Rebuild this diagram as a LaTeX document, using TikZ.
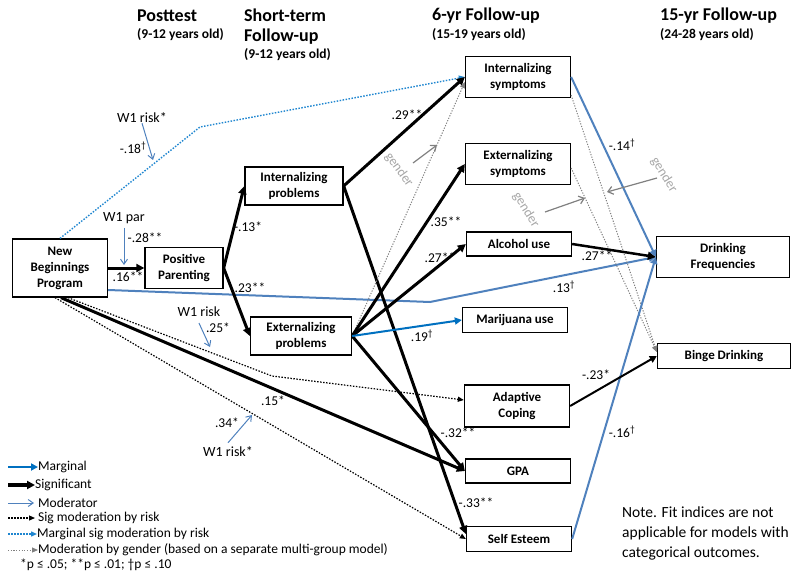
\documentclass[tikz,border=0pt]{standalone}
\usepackage{fontspec}
\setmainfont{Carlito}
\usetikzlibrary{arrows.meta,calc}
\definecolor{steel}{HTML}{4F81BD}
\definecolor{brightblue}{HTML}{0070C0}
\definecolor{dotblue}{HTML}{1F86D0}
\definecolor{gmod}{HTML}{808080}
\definecolor{gtext}{HTML}{A6A6A6}
\newcommand{\dg}{\textsuperscript{†}}
\begin{document}
\begin{tikzpicture}[x=1pt,y=-1pt,
  box/.style={draw=black, line width=1.3pt, fill=white, align=center, inner sep=0pt,
    font=\fontsize{13}{16}\selectfont\bfseries},
  hdr/.style={anchor=west, inner sep=0pt, font=\fontsize{18}{22}\selectfont\bfseries},
  sub/.style={anchor=west, inner sep=0pt, font=\fontsize{13.5}{15}\selectfont\bfseries},
  lbl/.style={inner sep=0pt, font=\fontsize{13.5}{14}\selectfont},
  modlbl/.style={inner sep=0pt, font=\fontsize{14}{15}\selectfont},
  glbl/.style={inner sep=0pt, text=gtext, font=\fontsize{13.5}{15}\selectfont},
  leg/.style={anchor=west, inner sep=0pt, font=\fontsize{13.5}{15}\selectfont},
  sig/.style={line width=3pt, -{Triangle[length=8pt,width=8pt]}},
  sigm/.style={line width=2.5pt, -{Triangle[length=8pt,width=8pt]}},
  sigs/.style={line width=2pt, -{Triangle[length=7pt,width=7pt]}},
  bluepath/.style={steel, line width=2pt, -{Triangle[length=7pt,width=7pt]}},
  marg/.style={brightblue, line width=2pt, -{Triangle[length=7pt,width=7pt]}},
  sigmod/.style={black, line width=1.2pt, dash pattern=on 1.5pt off 1.5pt, -{Triangle[length=6pt,width=5pt]}},
  margmod/.style={dotblue, line width=1.4pt, dash pattern=on 1.5pt off 1.5pt, -{Triangle[length=6pt,width=5pt]}},
  gendmod/.style={gmod, line width=1pt, dash pattern=on 1.2pt off 1.5pt, -{Triangle[length=6pt,width=5pt]}},
  modarr/.style={steel, line width=1pt, -{Straight Barb[length=5pt,width=7pt]}},
  garr/.style={gmod, line width=1.2pt, -{Straight Barb[length=5pt,width=8pt]}}
]
\useasboundingbox (0,0) rectangle (800,580);

% headers
\node[hdr] (h1) at (137,16) {Posttest};
\node[sub] (h1s) at (137,35) {(9-12 years old)};
\node[hdr] (h2) at (244,15) {Short-term};
\node[hdr] (h2b) at (244,37) {Follow-up};
\node[sub] (h2s) at (244,55) {(9-12 years old)};
\node[hdr] (h3) at (432,16) {6-yr Follow-up};
\node[sub] (h3s) at (432,35) {(15-19 years old)};
\node[hdr] (h4) at (660,16) {15-yr Follow-up};
\node[sub] (h4s) at (660,35) {(24-28 years old)};

% boxes
\node[box, minimum width=95pt, minimum height=58pt] (nbp) at (60,268) {New\\Beginnings\\Program};
\node[box, minimum width=78pt, minimum height=41pt] (pp) at (184,268) {Positive\\Parenting};
\node[box, minimum width=98pt, minimum height=38pt] (ip) at (294,186) {Internalizing\\problems};
\node[box, minimum width=101pt, minimum height=38pt] (ep) at (301,336) {Externalizing\\problems};
\node[box, minimum width=105pt, minimum height=41pt] (is) at (518,77) {Internalizing\\symptoms};
\node[box, minimum width=105pt, minimum height=41pt] (es) at (518,164) {Externalizing\\symptoms};
\node[box, minimum width=105pt, minimum height=24pt] (al) at (519,244) {Alcohol use};
\node[box, minimum width=105pt, minimum height=25pt] (mj) at (515,320) {Marijuana use};
\node[box, minimum width=105pt, minimum height=42pt] (ac) at (517,406) {Adaptive\\Coping};
\node[box, minimum width=105pt, minimum height=24pt] (gpa) at (518,471) {GPA};
\node[box, minimum width=105pt, minimum height=25pt] (se) at (519,539) {Self Esteem};
\node[box, minimum width=133pt, minimum height=41pt] (df) at (723,257) {Drinking\\Frequencies};
\node[box, minimum width=133pt, minimum height=25pt] (bd) at (724,356) {Binge Drinking};

% paths
\draw[margmod] (nbp.north) -- (200,127) -- (is.west);
\draw[bluepath] ($(nbp.east)+(0,22)$) -- (430,302) -- (df.west);
\draw[sig] (nbp) -- (pp);
\draw[sig] (pp.east) -- (ip.west);
\draw[sig] (pp.east) -- (ep.west);
\draw[sig] (ip.east) -- (is.west);
\draw[sig] (ip.east) -- ($(se.west)+(0,-5)$);
\draw[gendmod] (ep.east) -- ($(is.west)+(0,5)$);
\draw[sig] (ep.east) -- (es.west);
\draw[sig] (ep.east) -- (al.west);
\draw[sig] (ep.east) -- (gpa.west);
\draw[marg] (ep.east) -- (mj.west);
\draw[sig] ($(nbp.south)+(1,0)$) -- (gpa.west);
\draw[sigmod] ($(nbp.south)+(8,0)$) -- (272,376) -- ($(ac.west)+(0,-6)$);
\draw[sigmod] ($(nbp.south)+(-5,0)$) -- (se.west);
\draw[gendmod] ($(is.south east)+(0,-3)$) -- ($(bd.west)+(0,-4)$);
\draw[gendmod] ($(es.east)+(0,4)$) -- ($(bd.west)+(0,-4)$);
\draw[sigm] (al.east) -- (df.west);
\draw[bluepath] (is.east) -- (df.west);
\draw[bluepath] (se.east) -- (df.west);
\draw[sigs] (ac.east) -- (bd.west);

% coefficient labels
\node[lbl] (c1) at (128,277) {.16**};
\node[lbl] (c2) at (145,238) {-.28**};
\node[lbl] (c3) at (248,227) {-.13*};
\node[lbl] (c4) at (250,288) {.23**};
\node[lbl] (c5) at (407,115) {.29**};
\node[lbl] (c6) at (446,222) {.35**};
\node[lbl] (c7) at (440,258) {.27**};
\node[lbl] (c8) at (422,336) {.19\dg};
\node[lbl] (c9) at (458,433) {-.32**};
\node[lbl] (c10) at (476,503) {-.33**};
\node[lbl] (c11) at (564,287) {.13\dg};
\node[lbl] (c12) at (597,256) {.27**};
\node[lbl] (c13) at (622,145) {-.14\dg};
\node[lbl] (c14) at (622,432) {-.16\dg};
\node[lbl] (c15) at (596,375) {-.23*};
\node[lbl] (c16) at (133,148) {-.18\dg};
\node[lbl] (c17) at (218,328) {.25*};
\node[lbl] (c18) at (227,423) {.34*};
\node[lbl] (c19) at (273,401) {.15*};

% moderators
\node[modlbl] (wpar) at (124,218) {W1 par};
\coordinate (mpar) at (124,265);
\draw[modarr] (wpar.south) ++(0,4) -- (mpar);
\node[modlbl] (wr1) at (142,118) {W1 risk*};
\coordinate (mr1) at (153,160);
\draw[modarr] (wr1.south) -- (mr1);
\node[modlbl] (wr2) at (199,312) {W1 risk};
\coordinate (mr2) at (210,347);
\draw[modarr] (wr2.south) ++(0,6) -- (mr2);
\node[modlbl] (wr3) at (228,452) {W1 risk*};
\coordinate (mr3) at (252,415);
\draw[modarr] (wr3.north) ++(0,-4) -- (mr3);

% gender moderators
\node[glbl, rotate=-54] (g1) at (399,170) {gender};
\coordinate (g1a) at (413,163);
\coordinate (g1b) at (437,145);
\draw[garr] (g1a) -- (g1b);
\node[glbl, rotate=-58] (g2) at (664,175) {gender};
\coordinate (g2a) at (657,178);
\coordinate (g2b) at (607,192);
\draw[garr] (g2a) -- (g2b);
\node[glbl, rotate=-58] (g3) at (526,210) {gender};
\coordinate (g3a) at (545,212);
\coordinate (g3b) at (585,198);
\draw[garr] (g3a) -- (g3b);

% legend
\node[leg] (l1) at (38,467) {Marginal};
\node[leg] (l2) at (35,485) {Significant};
\node[leg] (l3) at (38,503) {Moderator};
\node[leg] (l4) at (38,518) {Sig moderation by risk};
\node[leg] (l5) at (37,534) {Marginal sig moderation by risk};
\node[leg] (l6) at (38,550) {Moderation by gender (based on a separate multi-group model)};
\node[leg] (l7) at (20,565) {*p ≤ .05; **p ≤ .01; †p ≤ .10};
\coordinate (s1) at (8,467);
\coordinate (s2) at (8,485);
\coordinate (s3) at (8,503);
\coordinate (s4) at (8,518);
\coordinate (s5) at (8,534);
\coordinate (s6) at (8,550);
\draw[brightblue, line width=2.5pt, -{Triangle[length=7pt,width=7pt]}] (s1) -- (l1.west);
\draw[black, line width=3.5pt, -{Triangle[length=8pt,width=8pt]}] (s2) -- (l2.west);
\draw[modarr] (s3) -- ($(l3.west)+(-4,0)$);
\draw[sigmod] (s4) -- ($(l4.west)+(-3,0)$);
\draw[margmod] (s5) -- (l5.west);
\draw[gendmod] (s6) -- (l6.west);

% note
\node[anchor=west, align=left, inner sep=0pt, font=\fontsize{15.5}{20}\selectfont] (note) at (622,533)
  {Note. Fit indices are not\\applicable for models with\\categorical outcomes.};
\end{tikzpicture}
\end{document}
